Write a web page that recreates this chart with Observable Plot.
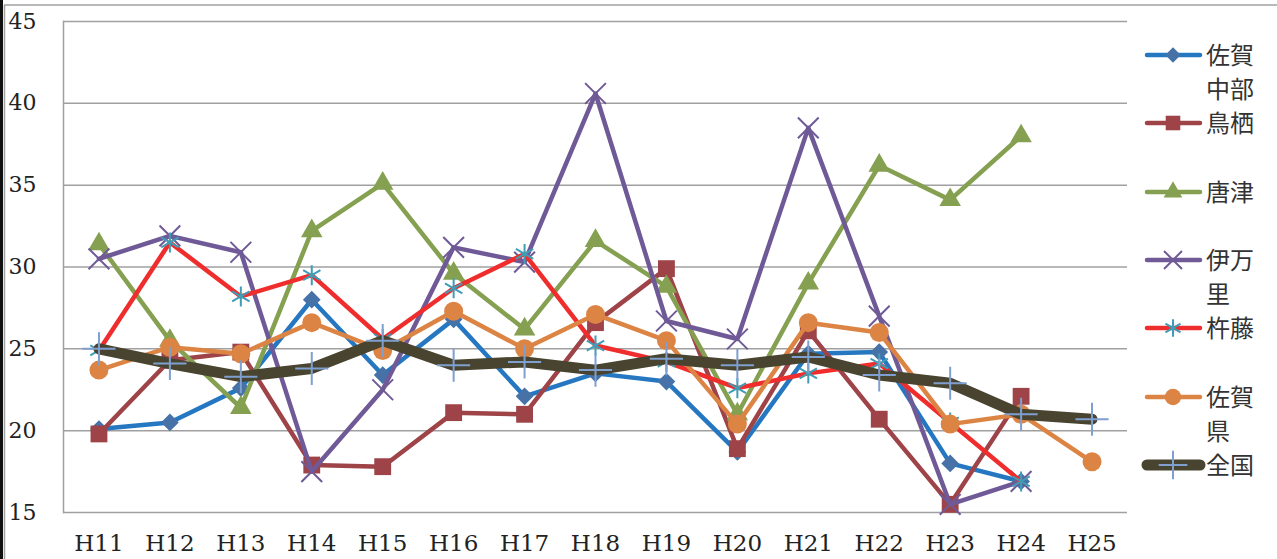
<!DOCTYPE html>
<html><head><meta charset="utf-8">
<script src="https://cdn.jsdelivr.net/npm/d3@7"></script>
<script src="https://cdn.jsdelivr.net/npm/@observablehq/plot@0.6"></script>
<style>
html,body{margin:0;padding:0;background:#fff;}
#chart{width:1277px;height:559px;overflow:hidden;}
</style>
</head><body><div id="chart"></div>
<script>
const categories = ["H11","H12","H13","H14","H15","H16","H17","H18","H19","H20","H21","H22","H23","H24","H25"];
const yTicks = [15,20,25,30,35,40,45];
const sagaChubu = [20.1,20.5,22.6,28.0,23.4,26.8,22.1,23.5,23.0,18.7,24.7,24.8,18.0,16.9,null];
const tosu      = [19.8,24.3,24.8,17.9,17.8,21.1,21.0,26.6,29.9,18.9,26.1,20.7,15.5,22.1,null];
const karatsu   = [31.4,25.5,21.4,32.2,35.1,29.6,26.2,31.6,28.8,21.0,29.0,36.2,34.1,38.0,null];
const imari     = [30.5,31.9,30.9,17.5,22.5,31.2,30.3,40.6,26.7,25.6,38.5,27.0,15.5,16.9,null];
const kito      = [24.9,31.5,28.2,29.5,25.6,28.7,30.8,25.2,24.2,22.6,23.5,24.1,20.5,16.9,null];
const sagaKen   = [23.7,25.1,24.7,26.6,24.9,27.3,25.0,27.1,25.5,20.4,26.6,26.0,20.4,21.0,18.1];
const zenkoku   = [25.0,24.1,23.3,23.8,25.5,24.0,24.2,23.7,24.4,24.0,24.5,23.4,22.9,21.0,20.7];

const seriesNames = ["佐賀中部","鳥栖","唐津","伊万里","杵藤","佐賀県","全国"];
const seriesValues = [sagaChubu,tosu,karatsu,imari,kito,sagaKen,zenkoku];

const styles = [
  {line:"#2677c1", width:4.5, symbol:"diamond2", r:8, fill:"#4672a8", stroke:"none", sw:0},
  {line:"#9e4347", width:4.5, symbol:"square", r:9.5, fill:"#9e4347", stroke:"none", sw:0},
  {line:"#84a050", width:4.5, symbol:"triangle", r:8, fill:"#84a050", stroke:"none", sw:0},
  {line:"#6f5a97", width:4.5, symbol:"times", r:9.5, fill:"none", stroke:"#6f5a97", sw:2},
  {line:"#f02d2d", width:4.5, symbol:"asterisk", r:9.5, fill:"none", stroke:"#3f9db5", sw:2},
  {line:"#dc8444", width:4.5, symbol:"circle", r:9.5, fill:"#dc8444", stroke:"none", sw:0},
  {line:"#48442f", width:11, symbol:"plus", r:10.7, fill:"none", stroke:"#7f9fd0", sw:2}
];

const serif = "'DejaVu Serif', serif";
const marks = [
  Plot.ruleY(yTicks, {stroke:"#a0a0a0", strokeWidth:1.5}),
  Plot.frame({anchor:"left", stroke:"#a0a0a0", strokeWidth:1.5}),
  Plot.axisY({ticks:yTicks, tickSize:0, tickPadding:0, textAnchor:"start", dx:-55, fontSize:22, fontFamily:serif, fill:"#222", label:null}),
  Plot.axisX({tickSize:0, tickPadding:22, fontSize:23, fontFamily:serif, fill:"#222", label:null})
];
seriesValues.forEach((vals, i) => {
  const s = styles[i];
  const data = categories.map((c, j) => ({cat:c, v:vals[j]})).filter(d => d.v != null);
  marks.push(Plot.line(data, {x:"cat", y:"v", stroke:s.line, strokeWidth:s.width, strokeLinejoin:"round", strokeLinecap:"round"}));
  marks.push(Plot.dot(data, {x:"cat", y:"v", symbol:s.symbol, r:s.r, fill:s.fill, stroke:s.stroke, strokeWidth:s.sw}));
});

const chart = Plot.plot({
  width:1277, height:559,
  marginLeft:63, marginRight:150, marginTop:21, marginBottom:47,
  x:{type:"point", domain:categories, padding:0.5, round:false},
  y:{domain:[15,45]},
  style:{background:"#fff", overflow:"visible", fontFamily:serif},
  marks
});
document.getElementById("chart").appendChild(chart);

const svg = d3.select(chart);
// Outer chart border
svg.append("line").attr("x1",1.5).attr("x2",1.5).attr("y1",0).attr("y2",559).attr("stroke","#111").attr("stroke-width",3);
svg.append("line").attr("x1",4.5).attr("x2",4.5).attr("y1",5).attr("y2",559).attr("stroke","#a0a0a0").attr("stroke-width",1.5);
svg.append("line").attr("x1",4).attr("x2",1277).attr("y1",5).attr("y2",5).attr("stroke","#a0a0a0").attr("stroke-width",1.5);

// Legend
const legendLines = [["佐賀","中部"],["鳥栖"],["唐津"],["伊万","里"],["杵藤"],["佐賀","県"],["全国"]];
const legendY = [55,123,192,260,328,397,465];
const symMap = {diamond2:d3.symbolDiamond2, square:d3.symbolSquare, triangle:d3.symbolTriangle, times:d3.symbolTimes, asterisk:d3.symbolAsterisk, circle:d3.symbolCircle, plus:d3.symbolPlus};
const lg = svg.append("g");
legendLines.forEach((lines, i) => {
  const s = styles[i], y = legendY[i];
  lg.append("line").attr("x1",1147).attr("x2",1200).attr("y1",y).attr("y2",y)
    .attr("stroke",s.line).attr("stroke-width",s.width).attr("stroke-linecap","round");
  lg.append("path").attr("d", d3.symbol(symMap[s.symbol], Math.PI*s.r*s.r*0.75)())
    .attr("transform",`translate(1173,${y})`)
    .attr("fill",s.fill).attr("stroke",s.stroke).attr("stroke-width",s.sw);
  lines.forEach((t, k) => {
    lg.append("text").attr("x",1206).attr("y",y + k*34).attr("dy","0.36em")
      .attr("text-anchor","start")
      .attr("font-family","'Noto Sans CJK JP', sans-serif").attr("font-size",24).attr("fill","#333").text(t);
  });
});
</script>
</body></html>
